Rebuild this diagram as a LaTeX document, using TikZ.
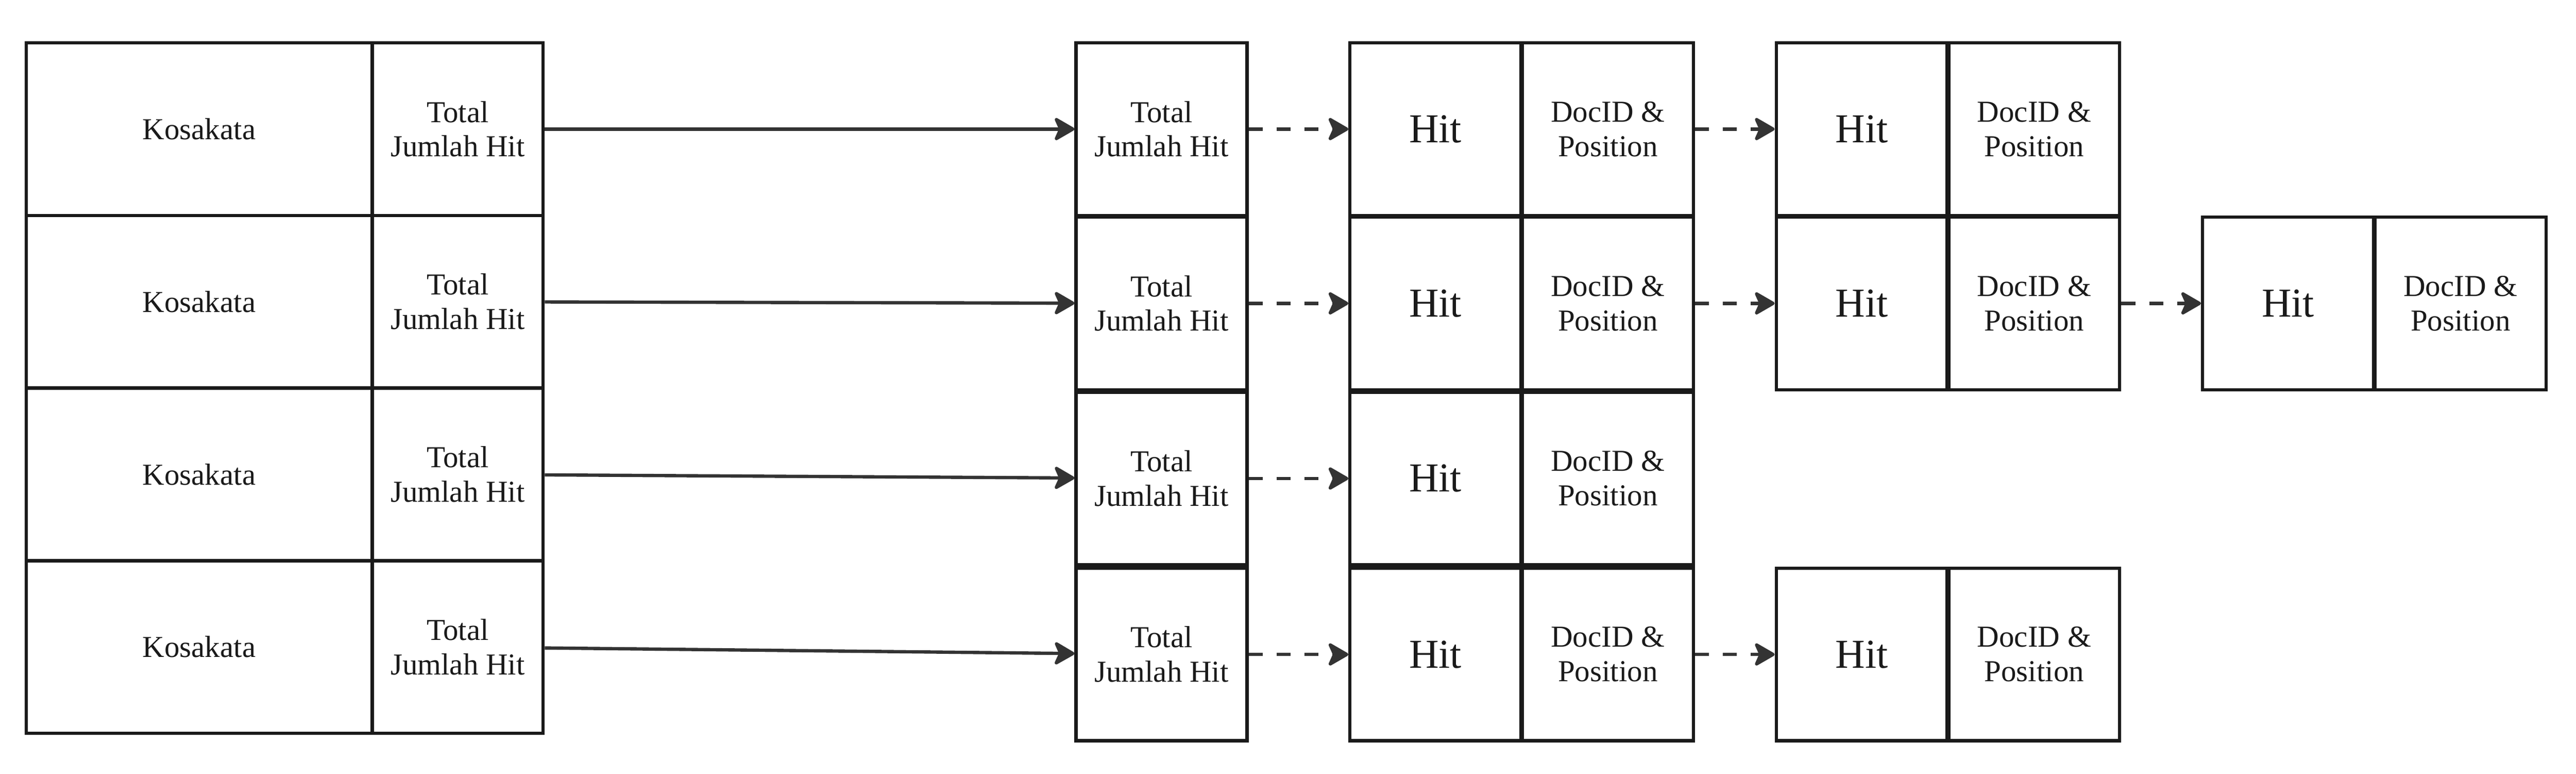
\documentclass[tikz,border=0pt]{standalone}
\usepackage{fontspec}
\setmainfont{Liberation Serif}
\usetikzlibrary{arrows.meta,positioning}
\definecolor{idxline}{RGB}{26,26,26}
\definecolor{idxarrow}{RGB}{51,51,51}
\tikzstyle{arrow} = [line width=2pt,-{Stealth[length=14pt,width=16pt,inset=3.5pt,round]},color=idxarrow]
\tikzstyle{dasharrow} = [arrow, dash pattern=on 8.5pt off 8.5pt]
\tikzstyle{cell} = [rectangle, draw=idxline, line width=2pt, minimum width=104pt, minimum height=105pt, inner sep=0pt, text centered, align=center, text=idxline, font=\fontsize{18.5}{21}\selectfont]
\tikzstyle{word} = [cell, minimum width=210.5pt]
\tikzstyle{hit} = [cell, font=\fontsize{25}{28}\selectfont]

\begin{document}
\begin{tikzpicture}[x=1pt, y=-1pt]
\useasboundingbox (0,0) rectangle (1568,470.6);
% vocabulary table
\node (kosa1) [word] at (121.2,78.5) {Kosakata};
\node (kosa2) [word] at (121.2,183.5) {Kosakata};
\node (kosa3) [word] at (121.2,288.5) {Kosakata};
\node (kosa4) [word] at (121.2,393.5) {Kosakata};
\node (total1) [cell, right of=kosa1, node distance=157.4pt] {Total\\Jumlah Hit};
\node (total2) [cell, right of=kosa2, node distance=157.4pt] {Total\\Jumlah Hit};
\node (total3) [cell, right of=kosa3, node distance=157.4pt] {Total\\Jumlah Hit};
\node (total4) [cell, right of=kosa4, node distance=157.4pt] {Total\\Jumlah Hit};

% posting lists
\node (ptotal1) [cell] at (707,78.5) {Total\\Jumlah Hit};
\node (ptotal2) [cell] at (707,184.5) {Total\\Jumlah Hit};
\node (ptotal3) [cell] at (707,291) {Total\\Jumlah Hit};
\node (ptotal4) [cell] at (707,398) {Total\\Jumlah Hit};

\node (hit1a) [hit, right of=ptotal1, node distance=166.7pt] {Hit};
\node (doc1a) [cell, right of=hit1a, node distance=105pt] {DocID \&\\Position};
\node (hit1b) [hit, right of=doc1a, node distance=154.5pt] {Hit};
\node (doc1b) [cell, right of=hit1b, node distance=105pt] {DocID \&\\Position};

\node (hit2a) [hit, right of=ptotal2, node distance=166.7pt] {Hit};
\node (doc2a) [cell, right of=hit2a, node distance=105pt] {DocID \&\\Position};
\node (hit2b) [hit, right of=doc2a, node distance=154.5pt] {Hit};
\node (doc2b) [cell, right of=hit2b, node distance=105pt] {DocID \&\\Position};
\node (hit2c) [hit, right of=doc2b, node distance=154.5pt] {Hit};
\node (doc2c) [cell, right of=hit2c, node distance=105pt] {DocID \&\\Position};

\node (hit3a) [hit, right of=ptotal3, node distance=166.7pt] {Hit};
\node (doc3a) [cell, right of=hit3a, node distance=105pt] {DocID \&\\Position};

\node (hit4a) [hit, right of=ptotal4, node distance=166.7pt] {Hit};
\node (doc4a) [cell, right of=hit4a, node distance=105pt] {DocID \&\\Position};
\node (hit4b) [hit, right of=doc4a, node distance=154.5pt] {Hit};
\node (doc4b) [cell, right of=hit4b, node distance=105pt] {DocID \&\\Position};

\draw[arrow] (total1) -- (ptotal1);
\draw[arrow] (total2) -- (ptotal2);
\draw[arrow] (total3) -- (ptotal3);
\draw[arrow] (total4) -- (ptotal4);

\draw[dasharrow] (ptotal1) -- (hit1a);
\draw[dasharrow] (doc1a) -- (hit1b);
\draw[dasharrow] (ptotal2) -- (hit2a);
\draw[dasharrow] (doc2a) -- (hit2b);
\draw[dasharrow] (doc2b) -- (hit2c);
\draw[dasharrow] (ptotal3) -- (hit3a);
\draw[dasharrow] (ptotal4) -- (hit4a);
\draw[dasharrow] (doc4a) -- (hit4b);
\end{tikzpicture}
\end{document}
